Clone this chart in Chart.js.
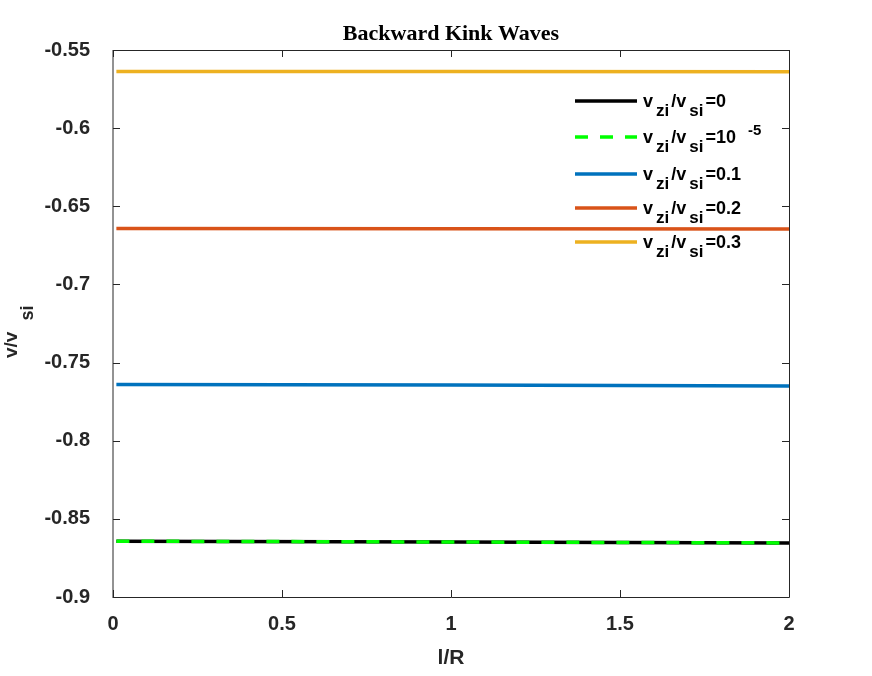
<!DOCTYPE html>
<html>
<head>
<meta charset="utf-8">
<script src="https://cdn.jsdelivr.net/npm/chart.js@4.4.0/dist/chart.umd.min.js"></script>
<style>
  html, body { margin: 0; padding: 0; background: #ffffff; }
  #wrap { width: 872px; height: 676px; }
</style>
</head>
<body>
<div id="wrap"><canvas id="kink"></canvas></div>
<script>
// data
const lOverR = [0.01, 1, 2];
const ratio0 = [-0.8643, -0.8648, -0.8654];
const ratio1e5 = [-0.8643, -0.8648, -0.8654];
const ratio01 = [-0.7641, -0.7643, -0.7650];
const ratio02 = [-0.6642, -0.6643, -0.6645];
const ratio03 = [-0.5638, -0.5638, -0.5639];

const legendMain = ['=0', '=10', '=0.1', '=0.2', '=0.3'];
const legendSup = ['', '-5', '', '', ''];

const xTicks = [0, 0.5, 1, 1.5, 2];
const yTicks = [-0.9, -0.85, -0.8, -0.75, -0.7, -0.65, -0.6, -0.55];

const SANS = "'Liberation Sans', Arial, Helvetica, sans-serif";
const INK = '#262626';

const pts = (ys) => lOverR.map((x, i) => ({ x: x, y: ys[i] }));

const sets = [
  { data: pts(ratio0), borderColor: '#000000', order: 1 },
  { data: pts(ratio1e5), borderColor: '#00ff00', borderDash: [13, 12], order: 0 },
  { data: pts(ratio01), borderColor: '#0072BD', order: 2 },
  { data: pts(ratio02), borderColor: '#D95319', order: 3 },
  { data: pts(ratio03), borderColor: '#EDB120', order: 4 }
];
sets.forEach(s => { s.borderWidth = 3.5; s.pointRadius = 0; s.fill = false; s.tension = 0; });

// draws text runs: [text, dy, font, gap], returns end x
function runs(ctx, x, y, parts) {
  parts.forEach(p => {
    ctx.font = p[2];
    ctx.fillText(p[0], x, y + p[1]);
    x += ctx.measureText(p[0]).width + (p[3] || 0);
  });
  return x;
}

const decor = {
  id: 'decor',
  afterDraw(chart) {
    const ctx = chart.ctx;
    const a = chart.chartArea;
    const xs = chart.scales.x, ys = chart.scales.y;
    ctx.save();

    // box
    ctx.lineWidth = 1;
    ctx.strokeStyle = INK;
    ctx.beginPath();
    ctx.moveTo(a.left, a.top + 0.5); ctx.lineTo(a.right + 0.5, a.top + 0.5);
    ctx.lineTo(a.right + 0.5, a.bottom + 0.5); ctx.lineTo(a.left, a.bottom + 0.5);
    ctx.stroke();
    ctx.beginPath();
    ctx.moveTo(a.left, a.top); ctx.lineTo(a.left, a.bottom + 1);
    ctx.stroke();

    // inward ticks
    ctx.beginPath();
    yTicks.forEach(v => {
      const py = Math.round(ys.getPixelForValue(v)) + 0.5;
      ctx.moveTo(a.left, py); ctx.lineTo(a.left + 7, py);
      ctx.moveTo(a.right, py); ctx.lineTo(a.right - 7, py);
    });
    xTicks.forEach(v => {
      const px = Math.round(xs.getPixelForValue(v)) + 0.5;
      ctx.moveTo(px, a.bottom); ctx.lineTo(px, a.bottom - 7);
      ctx.moveTo(px, a.top); ctx.lineTo(px, a.top + 7);
    });
    ctx.stroke();

    // title
    ctx.fillStyle = '#000000';
    ctx.textAlign = 'center';
    ctx.textBaseline = 'alphabetic';
    ctx.font = "bold 22px 'Liberation Serif', 'Times New Roman', serif";
    ctx.fillText('Backward Kink Waves', (a.left + a.right) / 2, 40);

    // x title
    ctx.fillStyle = INK;
    ctx.font = 'bold 21px ' + SANS;
    ctx.fillText('l/R', (a.left + a.right) / 2, 664);

    // y title, rotated
    ctx.textAlign = 'left';
    ctx.save();
    ctx.translate(17, 358);
    ctx.rotate(-Math.PI / 2);
    runs(ctx, 0, 0, [['v/v', 0, 'bold 19px ' + SANS, 11], ['si', 16, 'bold 18px ' + SANS]]);
    ctx.restore();

    // legend
    const main = 'bold 18px ' + SANS;
    const sub = 'bold 17px ' + SANS;
    const rowsY = [101, 137, 174, 208, 242];
    sets.forEach((s, i) => {
      const ry = rowsY[i];
      ctx.save();
      ctx.strokeStyle = s.borderColor;
      ctx.lineWidth = 3.5;
      ctx.setLineDash(s.borderDash || []);
      ctx.beginPath();
      ctx.moveTo(575, ry); ctx.lineTo(637, ry);
      ctx.stroke();
      ctx.restore();
      ctx.fillStyle = '#000000';
      let ex = runs(ctx, 643, ry, [
        ['v', 6, main, 3], ['zi', 14.5, sub, 2], ['/v', 6, main, 3],
        ['si', 14.5, sub, 2], [legendMain[i], 6, main, 12]
      ]);
      if (legendSup[i]) {
        runs(ctx, ex, ry, [[legendSup[i], -2, 'bold 15px ' + SANS]]);
      }
    });
    ctx.restore();
  }
};

new Chart(document.getElementById('kink'), {
  type: 'line',
  data: { datasets: sets },
  options: {
    responsive: true,
    maintainAspectRatio: false,
    animation: false,
    layout: { padding: { top: 50, right: 83, left: 0, bottom: 0 } },
    plugins: {
      legend: { display: false },
      title: { display: false },
      tooltip: { enabled: false }
    },
    scales: {
      x: {
        type: 'linear',
        min: 0, max: 2,
        afterFit: (s) => { s.height = 79; },
        afterBuildTicks: (s) => { s.ticks = xTicks.map(v => ({ value: v })); },
        grid: { display: false },
        border: { display: false },
        ticks: {
          autoSkip: false, maxRotation: 0, padding: 7,
          color: INK,
          font: { family: SANS, size: 20, weight: 'bold' },
          callback: (v) => String(v)
        }
      },
      y: {
        type: 'linear',
        min: -0.9, max: -0.55,
        afterFit: (s) => { s.width = 113; },
        afterBuildTicks: (s) => { s.ticks = yTicks.map(v => ({ value: v })); },
        grid: { display: false },
        border: { display: false },
        ticks: {
          autoSkip: false, padding: 15,
          color: INK,
          font: { family: SANS, size: 20, weight: 'bold' },
          callback: (v) => String(Number(v.toFixed(2)))
        }
      }
    }
  },
  plugins: [decor]
});
</script>
</body>
</html>
